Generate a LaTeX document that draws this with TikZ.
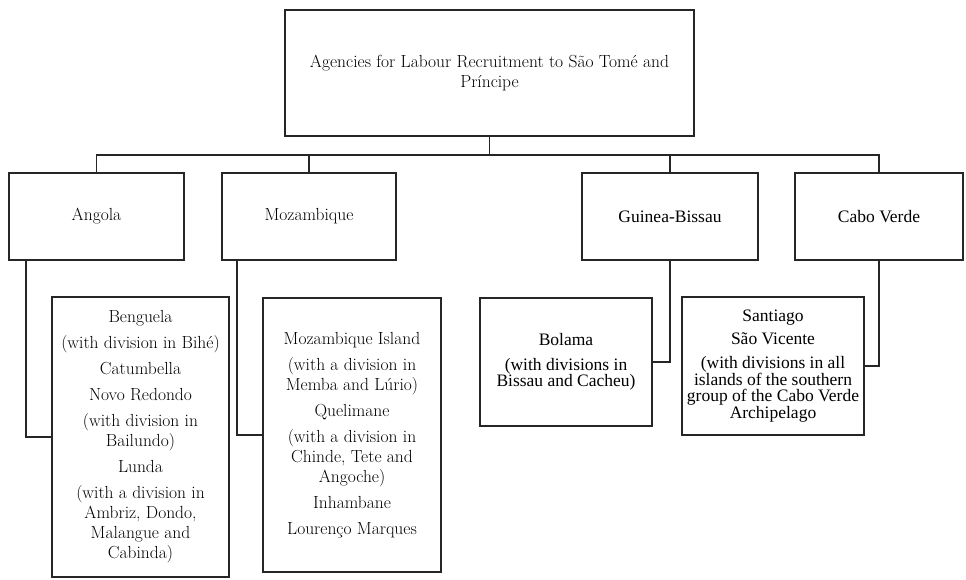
\documentclass[tikz,border=0pt]{standalone}
\usepackage{fontspec}
\newfontfamily\timesfont{Liberation Serif}
\newcommand{\garfont}{\fontsize{17.5}{20}\selectfont}
\newcommand{\timfont}{\timesfont\fontsize{17.5}{16.7}\selectfont}
\tikzset{
  agency/.style={draw=black!85, line width=1.6pt, rectangle, align=center, inner sep=2pt, font=\garfont},
  link/.style={draw=black!85, line width=1.6pt},
}
\begin{document}
\begin{tikzpicture}[x=1pt,y=1pt,yscale=-1,xscale=1]
\useasboundingbox (0,0) rectangle (966,580);

%Top box
\node [agency, minimum width=409pt, minimum height=126pt] (top) at (489.5,73)
  {Agencies for Labour Recruitment to São Tomé and\\ Príncipe};

%Countries
\node [agency, minimum width=175pt, minimum height=87pt] (angola) at (96.5,216.5) {Angola};
\node [agency, minimum width=174pt, minimum height=87pt] (moz) at (309,216.5) {Mozambique};
\node [agency, font=\timfont, minimum width=176pt, minimum height=87pt] (guinea) at (670,216.5) {Guinea-Bissau};
\node [agency, font=\timfont, minimum width=168pt, minimum height=87pt] (cabo) at (879,216.5) {Cabo Verde};

%Agencies
\node [agency, minimum width=177pt, minimum height=280pt] (angolasub) at (140.5,437)
  {Benguela\\[6pt] (with division in Bihé)\\[6pt] Catumbella\\[6pt] Novo Redondo\\[6pt]
   (with division in\\ Bailundo)\\[6pt] Lunda\\[6pt] (with a division in\\ Ambriz, Dondo,\\
   Malangue and\\ Cabinda)};
\node [agency, minimum width=178pt, minimum height=274pt] (mozsub) at (352,435)
  {Mozambique Island\\[6pt] (with a division in\\ Memba and Lúrio)\\[6pt] Quelimane\\[6pt]
   (with a division in\\ Chinde, Tete and\\ Angoche)\\[6pt] Inhambane\\[6pt] Lourenço Marques};
\node [agency, font=\timfont, minimum width=172pt, minimum height=128pt] (bolama) at (566,362)
  {Bolama\\[8pt] (with divisions in\\ Bissau and Cacheu)};
\node [agency, font=\timfont, minimum width=182pt, minimum height=138pt] (santiago) at (773,366)
  {Santiago\\[7pt] São Vicente\\[7pt] (with divisions in all\\ islands of the southern\\
   group of the Cabo Verde\\ Archipelago};

%Connectors
\coordinate (bus) at (489.5,155);
\draw [link] (top.south) -- (bus);
\draw [link] (angola.north) |- (bus) -| (cabo.north);
\draw [link] (moz.north) -- (moz.north |- bus);
\draw [link] (guinea.north) -- (guinea.north |- bus);
\draw [link] ([xshift=18pt]angola.south west) |- (angolasub.west);
\draw [link] ([xshift=16pt]moz.south west) |- (mozsub.west);
\draw [link] (guinea.south) |- (bolama.east);
\draw [link] (cabo.south) |- (santiago.east);

\end{tikzpicture}
\end{document}
